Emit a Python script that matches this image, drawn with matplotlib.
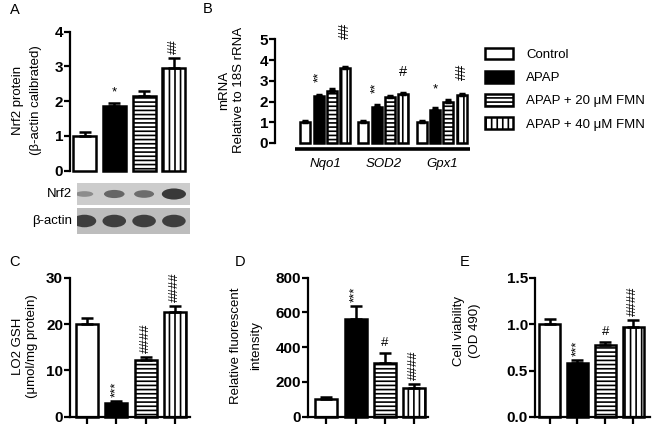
import numpy as np
import matplotlib
matplotlib.use('Agg')
import matplotlib.pyplot as plt
from matplotlib.patches import Patch, Ellipse

plt.rcParams['font.family'] = ['Liberation Sans', 'DejaVu Sans']
plt.rcParams['hatch.linewidth'] = 1.2
plt.rcParams['hatch.color'] = 'black'

# groups shared by every panel
groups = ['Control', 'APAP', 'APAP + 20 \u03bcM FMN', 'APAP + 40 \u03bcM FMN']
faces = ['white', 'black', 'white', 'white']
hatches = [None, None, '----', '|||']

# A - Nrf2 protein
nrf2_mean = [1.0, 1.85, 2.15, 2.95]
nrf2_err = [0.1, 0.1, 0.15, 0.3]
nrf2_sig = ['', '*', '', '##']
blot_nrf2 = [0.35, 0.6, 0.55, 0.9]
blot_actin = [0.85, 0.85, 0.85, 0.85]

# B - mRNA
genes = ['Nqo1', 'SOD2', 'Gpx1']
mrna_control = [1.0, 1.0, 1.0]
mrna_apap = [2.25, 1.75, 1.6]
mrna_fmn20 = [2.5, 2.2, 2.0]
mrna_fmn40 = [3.6, 2.35, 2.3]
mrna_err = [0.08, 0.08, 0.08]
mrna_sig_apap = ['**', '**', '*']
mrna_sig_fmn40 = ['##', '#', '##']

# C - GSH
gsh_mean = [20.0, 3.0, 12.2, 22.5]
gsh_err = [1.3, 0.3, 0.6, 1.3]
gsh_sig = ['', '***', '####', '####']

# D - fluorescence
ros_mean = [100, 560, 310, 165]
ros_err = [15, 75, 55, 25]
ros_sig = ['', '***', '#', '####']

# E - viability
via_mean = [1.0, 0.58, 0.78, 0.97]
via_err = [0.06, 0.03, 0.03, 0.07]
via_sig = ['', '***', '#', '####']

W, H = 654, 425
fig = plt.figure(figsize=(W / 100, H / 100), dpi=100)


def px_axes(l, t, r, b):
    return fig.add_axes([l / W, 1 - b / H, (r - l) / W, (b - t) / H])


def style_axes(ax, yticks, fmt, size, xticks=None):
    ax.spines['top'].set_visible(False)
    ax.spines['right'].set_visible(False)
    ax.spines['left'].set_linewidth(1.6)
    ax.set_yticks(yticks)
    ax.set_yticklabels([fmt.format(v) for v in yticks], fontsize=size, fontweight='bold')
    ax.tick_params(axis='y', length=4, width=1.6, pad=1)
    if xticks is None:
        ax.spines['bottom'].set_visible(False)
        ax.set_xticks([])
    else:
        ax.spines['bottom'].set_linewidth(1.6)
        ax.set_xticks(xticks)
        ax.set_xticklabels([])
        ax.tick_params(axis='x', length=5, width=1.6)


def bar_panel(ax, mean, err, sig, width, pad=3):
    x = np.arange(len(mean))
    for i in range(len(mean)):
        ax.bar(x[i], mean[i], width, color=faces[i], edgecolor='black',
               hatch=hatches[i], linewidth=1.8, zorder=2, clip_on=False)
    ax.errorbar(x, mean, yerr=[np.zeros(len(err)), err], fmt='none', ecolor='black',
                elinewidth=1.8, capsize=4, capthick=1.8, zorder=3, clip_on=False)
    for i, s in enumerate(sig):
        if s:
            ax.annotate(s, (x[i], mean[i] + err[i]), xytext=(0, pad),
                        textcoords='offset points', ha='center', va='bottom',
                        rotation=90 if len(s) > 1 else 0, fontsize=9.5,
                        annotation_clip=False)
    return x


# ---- A ----
axA = px_axes(70, 31.7, 190, 170.7)
xa = bar_panel(axA, nrf2_mean, nrf2_err, nrf2_sig, 0.77)
axA.set_xlim(-0.49, 3.54)
axA.set_ylim(0, 4)
style_axes(axA, [0, 1, 2, 3, 4], '{:d}', 11)
fig.text(27 / W, 1 - 100 / H, 'Nrf2 protein\n(\u03b2-actin calibrated)', rotation=90,
         ha='center', va='center', fontsize=9.5, linespacing=1.6)

# western blot strips
for (t, b, vals, bg, label) in [(183, 205, blot_nrf2, '#cccccc', 'Nrf2'),
                                (208, 234, blot_actin, '#bdbdbd', '\u03b2-actin')]:
    axb = px_axes(77, t, 190, b)
    axb.set_facecolor(bg)
    axb.set_xlim(-0.25, 3.54)
    axb.set_ylim(0, 1)
    for i, v in enumerate(vals):
        g = 0.75 - 0.7 * v
        axb.add_patch(Ellipse((i, 0.5), 0.45 + 0.4 * v, 0.1 + 0.45 * v,
                              color=(g, g, g), alpha=0.85, lw=0))
    axb.set_xticks([])
    axb.set_yticks([])
    for s in axb.spines.values():
        s.set_visible(False)
    fig.text(72 / W, 1 - (t + b) / 2 / H, label, ha='right', va='center', fontsize=9.5)

# ---- B ----
axB = px_axes(275, 39.3, 470, 143)
offsets = np.array([0, 4.35, 8.75])
series = [mrna_control, mrna_apap, mrna_fmn20, mrna_fmn40]
for k, vals in enumerate(series):
    axB.bar(offsets + k, vals, 0.75, color=faces[k], edgecolor='black',
            hatch=hatches[k], linewidth=1.8, zorder=2, clip_on=False)
    axB.errorbar(offsets + k, vals, yerr=[np.zeros(3), mrna_err], fmt='none',
                 ecolor='black', elinewidth=1.8, capsize=2.5, capthick=2.5,
                 zorder=3, clip_on=False)
for j in range(3):
    axB.annotate(mrna_sig_apap[j], (offsets[j] + 1, mrna_apap[j] + mrna_err[j]),
                 xytext=(0, 9), textcoords='offset points', ha='center', va='bottom',
                 rotation=90 if len(mrna_sig_apap[j]) > 1 else 0, fontsize=9.5,
                 annotation_clip=False)
    gap = 20 if j == 0 else 10
    axB.annotate(mrna_sig_fmn40[j], (offsets[j] + 3, mrna_fmn40[j] + mrna_err[j]),
                 xytext=(0, gap), textcoords='offset points', ha='center', va='bottom',
                 rotation=90 if len(mrna_sig_fmn40[j]) > 1 else 0, fontsize=10.5,
                 annotation_clip=False)
    axB.plot([offsets[j] - 0.8, offsets[j] + 3.6], [-0.3, -0.3], color='black',
             lw=2.6, clip_on=False, solid_capstyle='butt')
    axB.text(offsets[j] + 1.5, -1.0, genes[j], ha='center', va='center',
             style='italic', fontsize=9.5, clip_on=False)
axB.set_xlim(-2.29, 12.37)
axB.set_ylim(0, 5)
style_axes(axB, [0, 1, 2, 3, 4, 5], '{:d}', 11)
fig.text(231.5 / W, 1 - 90 / H, 'mRNA\nRelative to 18S rRNA', rotation=90,
         ha='center', va='center', fontsize=9.5, linespacing=1.35)

# legend
handles = [Patch(facecolor=faces[i], edgecolor='black', hatch=hatches[i], linewidth=1.8)
           for i in range(4)]
fig.legend(handles, groups, loc='upper left', bbox_to_anchor=(485 / W, 1 - 48 / H),
           frameon=False, fontsize=9.5, handlelength=2.1, handleheight=0.95,
           handletextpad=1.0, labelspacing=0.75, borderpad=0, borderaxespad=0)

# ---- C ----
axC = px_axes(70, 277.7, 190, 416.7)
xc = bar_panel(axC, gsh_mean, gsh_err, gsh_sig, 0.75)
axC.set_xlim(-0.58, 3.51)
axC.set_ylim(0, 30)
style_axes(axC, [0, 10, 20, 30], '{:d}', 11, xticks=xc)
fig.text(25 / W, 1 - 346 / H, 'LO2 GSH\n(\u03bcmol/mg protein)', rotation=90,
         ha='center', va='center', fontsize=9.5, linespacing=1.2)

# ---- D ----
axD = px_axes(308, 277.7, 428, 416.7)
xd = bar_panel(axD, ros_mean, ros_err, ros_sig, 0.75)
axD.set_xlim(-0.63, 3.48)
axD.set_ylim(0, 800)
style_axes(axD, [0, 200, 400, 600, 800], '{:d}', 11, xticks=xd)
fig.text(246 / W, 1 - 346 / H, 'Relative fluorescent\nintensity', rotation=90,
         ha='center', va='center', fontsize=9.5, linespacing=1.9)

# ---- E ----
axE = px_axes(535, 277.7, 650, 417)
xe = bar_panel(axE, via_mean, via_err, via_sig, 0.76)
axE.set_xlim(-0.52, 3.6)
axE.set_ylim(0, 1.5)
style_axes(axE, [0.0, 0.5, 1.0, 1.5], '{:.1f}', 11, xticks=xe)
fig.text(467 / W, 1 - 331 / H, 'Cell viability\n(OD 490)', rotation=90,
         ha='center', va='center', fontsize=9.5, linespacing=1.35)

# panel letters
for lab, px, py in [('A', 10, 3), ('B', 203, 2), ('C', 9, 255), ('D', 235, 255), ('E', 460, 255)]:
    fig.text(px / W, 1 - py / H, lab, ha='left', va='top', fontsize=10.5)

fig.savefig('out.png', dpi=100)
